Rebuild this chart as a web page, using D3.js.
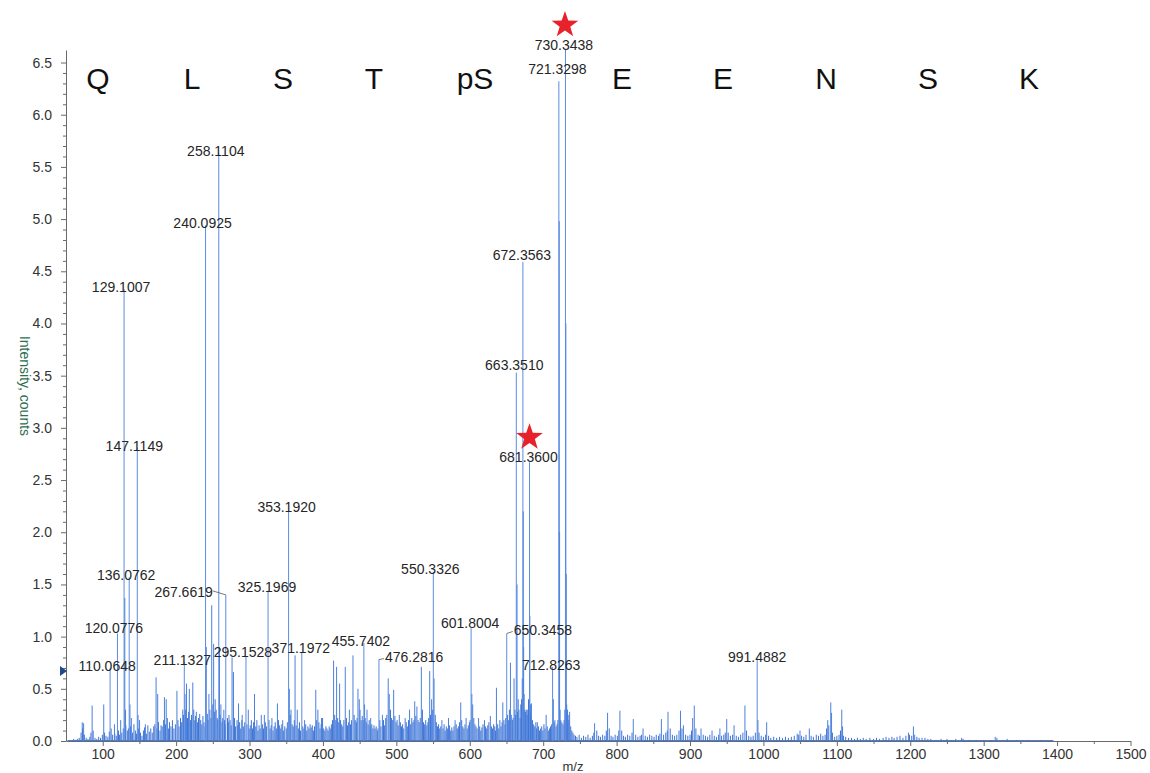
<!DOCTYPE html>
<html>
<head>
<meta charset="utf-8">
<script src="https://cdn.jsdelivr.net/npm/d3@7"></script>
<style>
  html, body { margin: 0; padding: 0; background: #fff; }
  svg { display: block; }
  .axis text { font-family: "Liberation Sans", Arial, sans-serif; font-size: 14px; fill: #333; }
  .axis path, .axis line { stroke: #6a6a6a; }
</style>
</head>
<body>
<svg id="chart" width="1150" height="773"></svg>
<script>
// ---- Data -----------------------------------------------------------------
// Annotated fragment ions (m/z) and their intensities (x 10^4 counts)
const peakMz = [110.0648, 120.0776, 129.1007, 136.0762, 147.1149, 211.1327, 240.0925, 258.1104,
  267.6619, 295.1528, 325.1969, 353.1920, 371.1972, 455.7402, 476.2816, 550.3326, 601.8004,
  650.3458, 663.3510, 672.3563, 681.3600, 712.8263, 721.3298, 730.3438, 991.4882];
const peakIntensity = [0.70, 1.03, 4.33, 1.57, 2.81, 0.76, 4.94, 5.63,
  1.40, 0.81, 1.44, 2.21, 0.85, 0.94, 0.78, 1.62, 1.08,
  1.03, 3.53, 4.59, 2.67, 0.71, 6.32, 6.62, 0.79];

// Peaks flagged with a star (phosphate-loss ions)
const starredPeaks = [730.3438, 681.3600];

// Unlabelled secondary peaks [m/z, intensity]
const minorPeaks = [[72.1,0.18],[74.0,0.17],[85.6,0.34],[101.4,0.35],[116.0,0.16],[124.5,0.2],[130.1,1.37],[131.1,0.3],
  [137.1,0.35],[139.0,0.22],[148.1,0.25],[150.2,0.2],[158.1,0.16],[172.7,0.61],[174.9,0.45],[184.1,0.42],[186.5,0.40],
  [201.1,0.48],[209.0,0.3],[212.1,0.45],[214.2,0.55],[218.0,0.50],[222.7,0.56],[227.5,0.28],[232.1,0.26],[241.1,0.9],
  [244.7,0.45],[248.5,1.30],[251.1,0.93],[253.2,0.4],[259.1,0.9],[261,0.35],[265,0.3],[272,0.25],[276.2,0.80],[278.1,0.66],
  [285.0,0.36],[290,0.25],[298.3,0.3],[306.8,0.45],[316,0.25],[320.2,0.25],[330.5,0.22],[338.0,0.36],[345.2,0.2],[354.2,0.5],
  [356.5,0.3],[362.0,0.82],[365,0.3],[375.0,0.2],[390.2,0.49],[393.1,0.3],[398,0.22],[414.5,0.77],[418.6,0.71],[422.7,0.55],
  [430.4,0.71],[436,0.3],[440.9,0.82],[447.7,0.5],[449.5,0.4],[456.7,0.35],[460,0.3],[465,0.22],[481,0.25],[488.9,0.60],
  [490.3,0.45],[496.3,0.49],[504,0.25],[512,0.22],[518,0.3],[525,0.38],[528,0.33],[534,0.71],[545.4,0.67],[548,0.4],
  [551.3,0.6],[562,0.2],[571,0.22],[580,0.2],[587.7,0.37],[595,0.22],[602.8,0.45],[604,0.35],[612,0.22],[620,0.2],
  [628,0.24],[636.3,0.51],[645,0.37],[655.4,0.75],[660.3,0.6],[664.35,1.5],[666,0.4],[672.86,2.2],[673.36,0.9],[677,0.3],
  [681.86,1.2],[684,0.36],[692,0.18],[704,0.25],[713.8,0.40],[716,0.2],[721.83,4.98],[722.33,2.0],[730.85,4.0],[731.35,1.6],
  [736,0.28],[770,0.17],[787.7,0.27],[804.5,0.29],[822.7,0.21],[836,0.12],[861,0.21],[870,0.28],[887,0.29],[891,0.15],
  [903.6,0.22],[905.8,0.34],[915,0.12],[930,0.1],[940.7,0.12],[950,0.21],[960,0.15],[974.8,0.34],[992.5,0.2],[1004.4,0.18],
  [1049.8,0.10],[1062.5,0.12],[1087.6,0.20],[1091.7,0.37],[1092.8,0.27],[1106.7,0.30],[1107.8,0.14],[1197.5,0.08],
  [1204.3,0.14],[1206,0.06],[1315.7,0.04]];

// Low-level chemical noise [m/z, intensity]
const noisePeaks = [[60.5,.02],[63,.01],[65.5,.02],[68,.03],
  [70.5,.08],[72.5,.12],[75,.06],[77.5,.03],[80,.02],[82.5,.04],[84,.08],[87,.1],[89.5,.03],[92,.02],[94.5,.04],[97,.03],[99.5,.06],
  [102.5,.08],[104.5,.05],[107,.04],[109,.09],[111.5,.12],[113.5,.06],[116.5,.07],[118.5,.05],[121.5,.1],[123,.06],[126,.08],[128,.12],[131.5,.15],[133.5,.1],
  [135,.12],[138,.14],[140.5,.08],[142.5,.16],[144.5,.1],[146,.07],[149,.12],[151.5,.08],[153.5,.05],[155.5,.1],[157,.13],[159.5,.07],[161.5,.15],[163.5,.09],[165.5,.12],[167.5,.08],[169.5,.14],[171,.16],[174,.12],[176,.18],[178,.1],[179.5,.15],
  [181,.14],[183,.2],[185.5,.16],[188,.22],[189.5,.12],[191,.18],[193,.14],[195,.2],[197,.12],[199,.16],[202.5,.2],[204,.14],[206,.22],[207.5,.18],[210,.25],[213,.3],[215.5,.22],[217,.28],[219.5,.2],[221,.25],[224,.3],[225.5,.2],[226.5,.24],[229,.18],[230.5,.22],[233.5,.2],[235,.16],[236.5,.24],[238,.18],[239.5,.14],
  [242.5,.26],[243.5,.2],[246,.3],[247.5,.22],[250,.35],[252.5,.28],[254.5,.3],[256,.22],[257,.2],[260,.25],[262.5,.18],[263.5,.22],[266,.2],[267,.16],[270,.22],[271.5,.18],[273.5,.2],[275,.15],[279.5,.22],[281,.14],[283,.2],[284,.15],[286.5,.18],[288,.12],[289.5,.2],[292,.14],[293.5,.18],[296.5,.16],[299.5,.12],
  [301,.15],[302.5,.2],[304,.12],[305.5,.18],[308.5,.14],[310,.2],[311.5,.1],[313,.15],[314.5,.12],[317.5,.16],[319,.12],[321.5,.18],[323,.14],[326.5,.2],[328,.12],[329.5,.15],[332,.1],[333.5,.14],[335,.18],[336.5,.12],[339.5,.2],[341,.15],[342.5,.12],[344,.16],[346.5,.1],[348,.14],[350,.12],[351.5,.18],[355.5,.25],[358,.16],[359.5,.14],
  [361,.2],[363.5,.15],[366.5,.12],[368,.18],[369.5,.1],[372.5,.14],[374,.12],[376.5,.16],[378,.1],[379.5,.14],[381,.12],[382.5,.16],[384,.13],[385.5,.15],[387,.1],[388.5,.14],[391.5,.2],[394.5,.18],[396,.12],[397.5,.16],[399.5,.22],[401,.12],[402.5,.1],[404,.14],[405.5,.12],[407,.1],[408.5,.14],[410,.12],[411.5,.16],[413,.2],[416,.25],[417.5,.2],
  [420,.22],[421.5,.18],[424,.2],[425.5,.16],[427,.14],[428.5,.2],[432,.22],[433.5,.15],[435,.18],[437.5,.16],[439,.2],[442.5,.25],[444,.2],[445.5,.18],[446.5,.22],[450.5,.3],[452,.2],[453.5,.24],[455,.2],[457.5,.22],[459,.18],[461.5,.16],[463,.2],[464.5,.14],[466.5,.16],[468,.12],[469.5,.15],[471,.12],[472.5,.14],[474,.1],[475,.12],[477.5,.2],[479,.14],
  [482.5,.2],[484,.15],[485.5,.22],[487,.25],[492,.3],[493.5,.22],[495,.2],[498,.24],[499.5,.18],[501,.2],[502.5,.15],[505.5,.18],[507,.14],[508.5,.16],[510,.12],[513.5,.18],[515,.14],[516.5,.2],[519.5,.16],[521,.22],[522.5,.18],[524,.2],[526.5,.24],[529.5,.2],[531,.18],[532.5,.22],[535.5,.3],[537,.18],[538.5,.16],[540,.2],[541.5,.15],[543,.18],[544,.22],[546.5,.25],[549,.3],[553,.25],[554.5,.18],[556,.14],[557.5,.16],[559,.12],
  [560.5,.14],[563.5,.12],[565,.16],[566.5,.1],[568,.14],[569.5,.12],[572.5,.15],[574,.1],[575.5,.13],[577,.1],[578.5,.14],[581.5,.16],[583,.12],[584.5,.14],[586,.18],[589,.2],[590.5,.14],[592,.12],[593.5,.16],[596.5,.12],[598,.15],[599.5,.18],[600.5,.2],[605.5,.22],[607,.16],[608.5,.14],[610,.12],[613.5,.14],[615,.1],[616.5,.13],[618,.16],[621.5,.14],[623,.12],[624.5,.15],[626,.18],[629.5,.14],[631,.12],[632.5,.16],[634,.14],[635,.1],[638,.16],[639.5,.12],
  [641,.2],[642.5,.14],[644,.18],[646.5,.2],[648,.16],[649,.22],[651.5,.25],[653,.2],[654,.3],[656.5,.25],[658,.2],[659,.22],[661.5,.3],[662.5,.25],[665,.28],[667,.3],[668.5,.22],[669.5,.35],[670.5,.4],[671.5,.6],[674,.45],[675,.3],[676,.28],[678,.25],[679,.3],[680,.4],[682.5,.35],[683,.25],[685.5,.2],[687,.16],[688.5,.14],[690,.18],[691,.12],[693.5,.14],[695,.1],[696.5,.12],[698,.14],[699.5,.1],[701,.16],[702.5,.12],[705.5,.14],[707,.1],[708.5,.12],[710,.14],[711.5,.16],[715,.18],[717.5,.14],[719,.16],[720,.2],[723,.3],[724,.2],[725.5,.18],[727,.16],[728.5,.2],[729.5,.3],[732,.35],[733,.3],[734,.25],[735,.2],[737.5,.14],[739,.1],[740.5,.08],[742,.06],[744,.05],
  [746,.04],[749,.06],[752,.03],[755,.05],[758,.04],[761,.06],[764,.03],[767,.05],[769,.08],[773,.1],[775.5,.05],[778,.04],[781,.06],[784,.05],[786,.1],[790,.12],[792.5,.05],[795,.04],[798,.06],[801,.05],[803,.1],[807,.1],[809.5,.05],[812,.04],[815,.06],[818,.05],[821,.08],[826,.06],[829,.04],[832,.05],[834,.06],[839,.05],[842,.04],[845,.06],[848,.05],[851,.04],[854,.06],[857,.05],[859,.07],[864,.06],[867,.08],[869,.1],[873,.12],[876,.06],[879,.05],[882,.06],[885,.1],[889,.12],[894,.06],[897,.05],[900,.06],[902,.1],[908,.12],[911,.06],[913,.05],[918,.06],[921,.05],[924,.04],[927,.06],[933,.05],[936,.04],[939,.06],[943,.05],[946,.06],[948,.08],[952,.08],[955,.05],[958,.06],[963,.05],[966,.04],[969,.06],[972,.08],[977,.1],[980,.05],[983,.04],[986,.05],[989,.08],[994,.08],[997,.05],[1000,.04],[1003,.06],[1007,.05],
  [1010,.03],[1014,.04],[1018,.03],[1022,.04],[1026,.03],[1030,.04],[1034,.03],[1038,.04],[1042,.05],[1046,.07],[1048,.06],[1052,.05],[1055,.04],[1058,.06],[1065,.05],[1068,.04],[1072,.06],[1075,.05],[1078,.07],[1081,.05],[1084,.06],[1086,.12],[1089,.15],[1094,.08],[1097,.04],[1100,.05],[1103,.06],[1105,.1],[1109,.05],[1112,.04],[1116,.03],[1120,.03],[1124,.02],[1128,.03],[1132,.02],[1136,.03],[1140,.02],[1145,.03],[1150,.02],[1154,.03],[1158,.02],[1163,.03],[1167,.04],[1171,.03],[1175,.04],[1178,.03],[1182,.04],[1186,.05],[1190,.03],[1194,.05],[1199,.06],[1202,.05],[1209,.04],[1212,.03],[1216,.03],[1220,.03],[1224,.02],[1228,.02],
  [1235,.01],[1242,.02],[1250,.02],[1256,.01],[1262,.02],[1270,.03],[1272,.02],[1280,.01],[1290,.01],[1300,.01],[1310,.01],[1318,.03],[1325,.01],[1332,.02],[1345,.01],[1360,.01],[1378,.01],[1392,.01]];

// Acquired m/z range of the spectrum trace
const spectrumRange = [52, 1395];

// Peptide sequence written across the top
const sequence = ["Q", "L", "S", "T", "pS", "E", "E", "N", "S", "K"];

// Axis ticks
const xMajorTicks = [100, 200, 300, 400, 500, 600, 700, 800, 900, 1000, 1100, 1200, 1300, 1400, 1500];
const yMajorTicks = [0.0, 0.5, 1.0, 1.5, 2.0, 2.5, 3.0, 3.5, 4.0, 4.5, 5.0, 5.5, 6.0, 6.5];

// Intensity threshold marker on the y axis
const thresholdLevel = 0.67;

// ---- Layout ---------------------------------------------------------------
const seqX = [98, 192, 283, 374, 475, 622, 723, 826, 928, 1029];
const seqBaseline = 89;
const labelDefault = { anchor: "middle", dx: -3, dy: 3 };
const labelNudge = {
  "120.0776": { dx: -3.5, dy: 0 },
  "211.1327": { dx: -2, dy: 3 },
  "267.6619": { anchor: "end", dx: -13, dy: 2.5, leader: [-13, -4] },
  "295.1528": { dx: -3, dy: 0.5 },
  "325.1969": { dx: -1, dy: 1 },
  "353.1920": { dx: -2, dy: 2 },
  "371.1972": { dx: -1, dy: 1 },
  "476.2816": { anchor: "start", dx: 6, dy: 2, leader: [5, -1] },
  "550.3326": { dx: -3, dy: 2 },
  "601.8004": { dx: -1, dy: 0 },
  "650.3458": { anchor: "start", dx: 7, dy: 1.5, leader: [6, -2] },
  "663.3510": { dx: -2, dy: -2.5 },
  "672.3563": { dx: -1, dy: -2 },
  "681.3600": { dx: -1, dy: 0 },
  "712.8263": { dx: -1.5, dy: 3 },
  "721.3298": { dx: -1.5, dy: -7 },
  "730.3438": { dx: -1.5, dy: 0 },
  "991.4882": { dx: 0, dy: 3 }
};

const svg = d3.select("#chart");
const x = d3.scaleLinear().domain([50, 1500]).range([66, 1130.5]);
const y = d3.scaleLinear().domain([0, 6.62]).range([741, 50]);
const peakColor = "#4a80dc";
const fontFamily = '"Liberation Sans", Arial, sans-serif';

// ---- Axes -----------------------------------------------------------------
const yMinor = d3.range(0, 66).map(i => i / 10).filter(v => Math.round(v * 10) % 5 !== 0);
svg.append("g").attr("class", "axis")
  .attr("transform", "translate(66,0)")
  .call(d3.axisLeft(y).tickValues(yMinor).tickSize(3).tickSizeOuter(0).tickFormat(""))
  .call(g => g.select(".domain").remove());
svg.append("g").attr("class", "axis")
  .attr("transform", "translate(66,0)")
  .call(d3.axisLeft(y).tickValues(yMajorTicks).tickSize(5).tickSizeOuter(0)
    .tickPadding(9).tickFormat(d3.format(".1f")));

const xMinor = d3.range(150, 1500, 100);
svg.append("g").attr("class", "axis")
  .attr("transform", "translate(0,741)")
  .call(d3.axisBottom(x).tickValues(xMinor).tickSize(3).tickSizeOuter(0).tickFormat(""))
  .call(g => g.select(".domain").remove());
svg.append("g").attr("class", "axis")
  .attr("transform", "translate(0,741)")
  .call(d3.axisBottom(x).tickValues(xMajorTicks).tickSize(5).tickSizeOuter(0).tickPadding(3)
    .tickFormat(d3.format("d")));

// Axis titles
svg.append("text")
  .attr("transform", "translate(20,386) rotate(90)")
  .attr("text-anchor", "middle")
  .style("font-family", fontFamily).style("font-size", "14px")
  .attr("fill", "#2f6f50")
  .text("Intensity, counts");
svg.append("text")
  .attr("x", 573).attr("y", 771)
  .attr("text-anchor", "middle")
  .style("font-family", fontFamily).style("font-size", "13px")
  .attr("fill", "#333")
  .text("m/z");

// Threshold marker
const ty = y(thresholdLevel);
svg.append("path")
  .attr("d", `M60,${ty - 5}L67,${ty}L60,${ty + 5}Z`)
  .attr("fill", "#1f4a8a");

// ---- Spectrum -------------------------------------------------------------
const spectrum = svg.append("g");
spectrum.append("line")
  .attr("x1", x(spectrumRange[0])).attr("x2", x(spectrumRange[1]))
  .attr("y1", y(0) - 0.5).attr("y2", y(0) - 0.5)
  .attr("stroke", peakColor).attr("stroke-width", 1);

function drawSticks(data, width, color) {
  spectrum.append("g").selectAll("line")
    .data(data)
    .join("line")
    .attr("x1", d => x(d[0])).attr("x2", d => x(d[0]))
    .attr("y1", y(0)).attr("y2", d => y(d[1]))
    .attr("stroke", color).attr("stroke-width", width);
}
drawSticks(noisePeaks, 1, "#3f75d6");
drawSticks(minorPeaks, 1, peakColor);
const labelled = peakMz.map((m, i) => [m, peakIntensity[i]]);
drawSticks(labelled, 1, "#5a8ce2");

// ---- Peak labels ----------------------------------------------------------
const fmt = d3.format(".4f");
const labels = svg.append("g");
labelled.forEach(([m, v]) => {
  const key = fmt(m);
  const o = Object.assign({}, labelDefault, labelNudge[key] || {});
  const px = x(m), py = y(v);
  if (o.leader) {
    labels.append("line")
      .attr("x1", px).attr("y1", py)
      .attr("x2", px + o.leader[0]).attr("y2", py + o.leader[1])
      .attr("stroke", "#555").attr("stroke-width", 0.8);
  }
  labels.append("text")
    .attr("x", px + o.dx).attr("y", py + o.dy)
    .attr("text-anchor", o.anchor)
    .style("font-family", fontFamily).style("font-size", "14px")
    .attr("fill", "#262626")
    .text(key);
  if (starredPeaks.includes(m)) {
    const cx = px + o.dx + 1, cy = py + o.dy - 25, R = 14, r = R * 0.4;
    const pts = d3.range(10).map(k => {
      const a = -Math.PI / 2 + k * Math.PI / 5;
      const rad = k % 2 === 0 ? R : r;
      return [cx + rad * Math.cos(a), cy + rad * Math.sin(a)];
    });
    labels.append("path")
      .attr("d", "M" + pts.map(p => p.join(",")).join("L") + "Z")
      .attr("fill", "#e8222b");
  }
});

// ---- Peptide sequence -----------------------------------------------------
svg.append("g").selectAll("text")
  .data(sequence)
  .join("text")
  .attr("x", (d, i) => seqX[i])
  .attr("y", seqBaseline)
  .attr("text-anchor", "middle")
  .style("font-family", fontFamily).style("font-size", "30px")
  .attr("fill", "#111")
  .text(d => d);
</script>
</body>
</html>
